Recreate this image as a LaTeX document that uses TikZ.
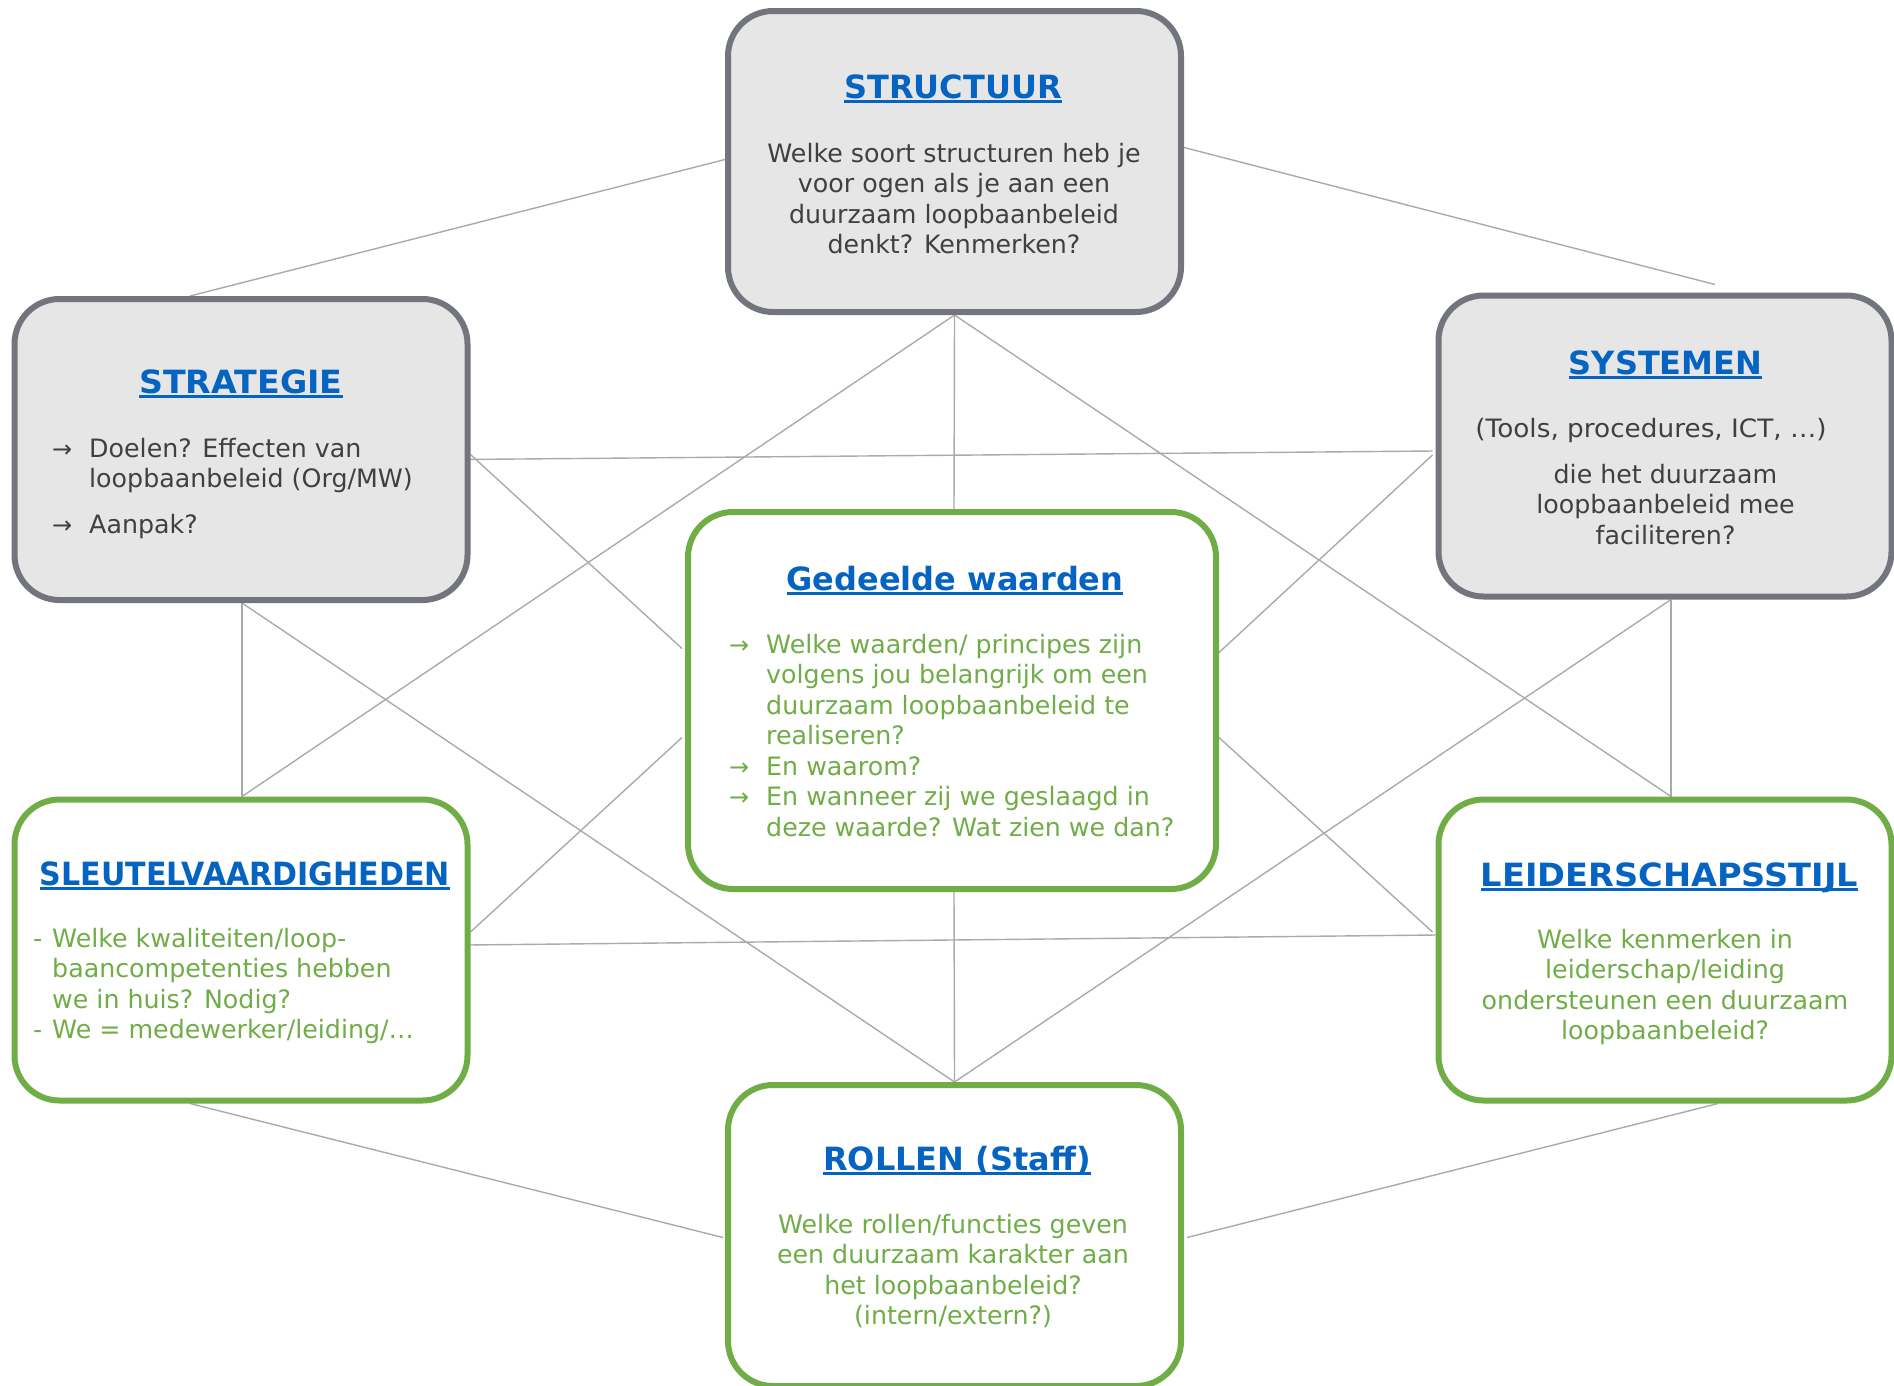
\documentclass[tikz,border=0pt]{standalone}
\usepackage{fontspec}
\setmainfont{DejaVu Sans}
\usetikzlibrary{calc}
\definecolor{ttlblue}{RGB}{5,99,193}
\definecolor{boxgray}{RGB}{230,230,230}
\definecolor{bordgray}{RGB}{114,117,126}
\definecolor{grn}{RGB}{112,173,71}
\definecolor{txtdark}{RGB}{64,64,64}
\definecolor{linegray}{RGB}{170,170,170}
\pgfdeclarelayer{bg}
\pgfsetlayers{bg,main}
\newcommand\ttl[1]{\setbox0\hbox{#1}\rlap{\rule[-5pt]{\wd0}{3pt}}\box0}
\newcommand\arr{\makebox[37pt][l]{\fontsize{24}{24}\selectfont →}}
\newcommand\ctab[1]{\begin{tabular}[t]{@{}c@{}}#1\end{tabular}}
\newcommand\ltab[1]{\begin{tabular}[t]{@{}l@{}}#1\end{tabular}}
\begin{document}
\begin{tikzpicture}[x=1pt,y=-1pt,
  graybox/.style={draw=bordgray, fill=boxgray, line width=6pt, rounded corners=45pt,
    minimum width=453pt, minimum height=301pt, inner sep=0pt},
  greenbox/.style={graybox, draw=grn, fill=white},
  ttlstyle/.style={anchor=base, inner sep=0pt, text=ttlblue, font=\fontsize{32}{38}\selectfont\bfseries},
  body/.style={anchor=base, inner sep=0pt, font=\fontsize{25.3}{30.5}\selectfont},
  conn/.style={draw=linegray, line width=1.4pt}]
\useasboundingbox (0,0) rectangle (1894,1385);
% boxes
\node[graybox] (struct) at (954.5,161.5) {};
\node[graybox] (strat) at (241,449.5) {};
\node[graybox] (sys) at (1665,446) {};
\node[greenbox, minimum width=528pt, minimum height=377pt] (ged) at (952,700.5) {};
\node[greenbox] (sleut) at (241,950) {};
\node[greenbox] (leid) at (1665,950) {};
\node[greenbox] (roll) at (954.5,1235.5) {};
% connectors
\begin{pgfonlayer}{bg}
\draw[conn] ($(strat.north)+(-51,0)$) -- ($(struct.west)+(0,-2)$);
\draw[conn] ($(struct.east)+(0,-14)$) -- ($(sys.north)+(50,-8)$);
\draw[conn] (struct.south) -- ($(sleut.north)+(1,0)$);
\draw[conn] (struct.south) -- ($(ged.north)+(2,0)$);
\draw[conn] (struct.south) -- ($(leid.north)+(6,0)$);
\draw[conn] ($(strat.east)+(-9,10)$) -- ($(sys.west)+(-3,5)$);
\draw[conn] ($(strat.east)+(0,5)$) -- ($(ged.west)+(-3,-52)$);
\draw[conn] ($(strat.south)+(1,0)$) -- ($(sleut.north)+(1,0)$);
\draw[conn] ($(strat.south)+(1,0)$) -- (roll.north);
\draw[conn] ($(sys.west)+(-3,9)$) -- ($(ged.east)+(0,-48)$);
\draw[conn] ($(sys.south)+(6,0)$) -- ($(leid.north)+(6,0)$);
\draw[conn] ($(sys.south)+(6,0)$) -- (roll.north);
\draw[conn] ($(sleut.east)+(0,-18)$) -- ($(ged.west)+(-3,37)$);
\draw[conn] ($(sleut.east)+(-4,-5)$) -- ($(leid.west)+(0,-15)$);
\draw[conn] ($(ged.east)+(0,37)$) -- ($(leid.west)+(-3,-18)$);
\draw[conn] ($(ged.south)+(2,0)$) -- (roll.north);
\draw[conn] ($(sleut.south)+(-51,0)$) -- ($(roll.west)+(-2,2)$);
\draw[conn] ($(leid.south)+(53,0)$) -- ($(roll.east)+(3,2)$);
\end{pgfonlayer}
% STRUCTUUR
\node[ttlstyle] (structt) at (953,98) {\ttl{STRUCTUUR}};
\node[body, text=txtdark] (structb) at (954,162) {\ctab{Welke soort structuren heb je\\voor ogen als je aan een\\duurzaam loopbaanbeleid\\denkt? Kenmerken?}};
% STRATEGIE
\node[ttlstyle] (stratt) at (241,393) {\ttl{\scalebox{1.04}[1]{STRATEGIE}}};
\node[body, text=txtdark, anchor=base west] (stratb) at (52,457)
  {\ltab{\arr Doelen? Effecten van\\\hspace*{37pt}loopbaanbeleid (Org/MW)\\[15.5pt]\arr Aanpak?}};
% SYSTEMEN
\node[ttlstyle] (syst) at (1665.5,374) {\ttl{SYSTEMEN}};
\node[body, text=txtdark] (sysb1) at (1651,437) {\scalebox{1.04}[1]{(Tools, procedures, ICT, …)}};
\node[body, text=txtdark] (sysb2) at (1665.5,483) {\ctab{die het duurzaam\\loopbaanbeleid mee\\faciliteren?}};
% GEDEELDE WAARDEN
\node[ttlstyle] (gedt) at (955,590) {\ttl{Gedeelde waarden}};
\node[body, text=grn, anchor=base west] (gedb) at (729,653)
  {\ltab{\arr Welke waarden/ principes zijn\\\hspace*{37pt}volgens jou belangrijk om een\\\hspace*{37pt}duurzaam loopbaanbeleid te\\\hspace*{37pt}realiseren?\\\arr En waarom?\\\arr En wanneer zij we geslaagd in\\\hspace*{37pt}deze waarde? Wat zien we dan?}};
% SLEUTELVAARDIGHEDEN
\node[ttlstyle] (sleutt) at (245,885) {\ttl{\scalebox{0.94}[1]{SLEUTELVAARDIGHEDEN}}};
\node[body, text=grn, anchor=base west] (sleutb) at (33,947)
  {\ltab{\makebox[19pt][l]{-}Welke kwaliteiten/loop-\\\hspace*{19pt}baancompetenties hebben\\\hspace*{19pt}we in huis? Nodig?\\\makebox[19pt][l]{-}We = medewerker/leiding/…}};
% LEIDERSCHAPSSTIJL
\node[ttlstyle] (leidt) at (1669.5,886) {\ttl{\scalebox{1.05}[1]{LEIDERSCHAPSSTIJL}}};
\node[body, text=grn] (leidb) at (1665,948) {\ctab{Welke kenmerken in\\leiderschap/leiding\\ondersteunen een duurzaam\\loopbaanbeleid?}};
% ROLLEN
\node[ttlstyle] (rollt) at (957,1170) {\ttl{ROLLEN (Staff)}};
\node[body, text=grn] (rollb) at (953,1233) {\ctab{Welke rollen/functies geven\\een duurzaam karakter aan\\het loopbaanbeleid?\\(intern/extern?)}};
\end{tikzpicture}
\end{document}
